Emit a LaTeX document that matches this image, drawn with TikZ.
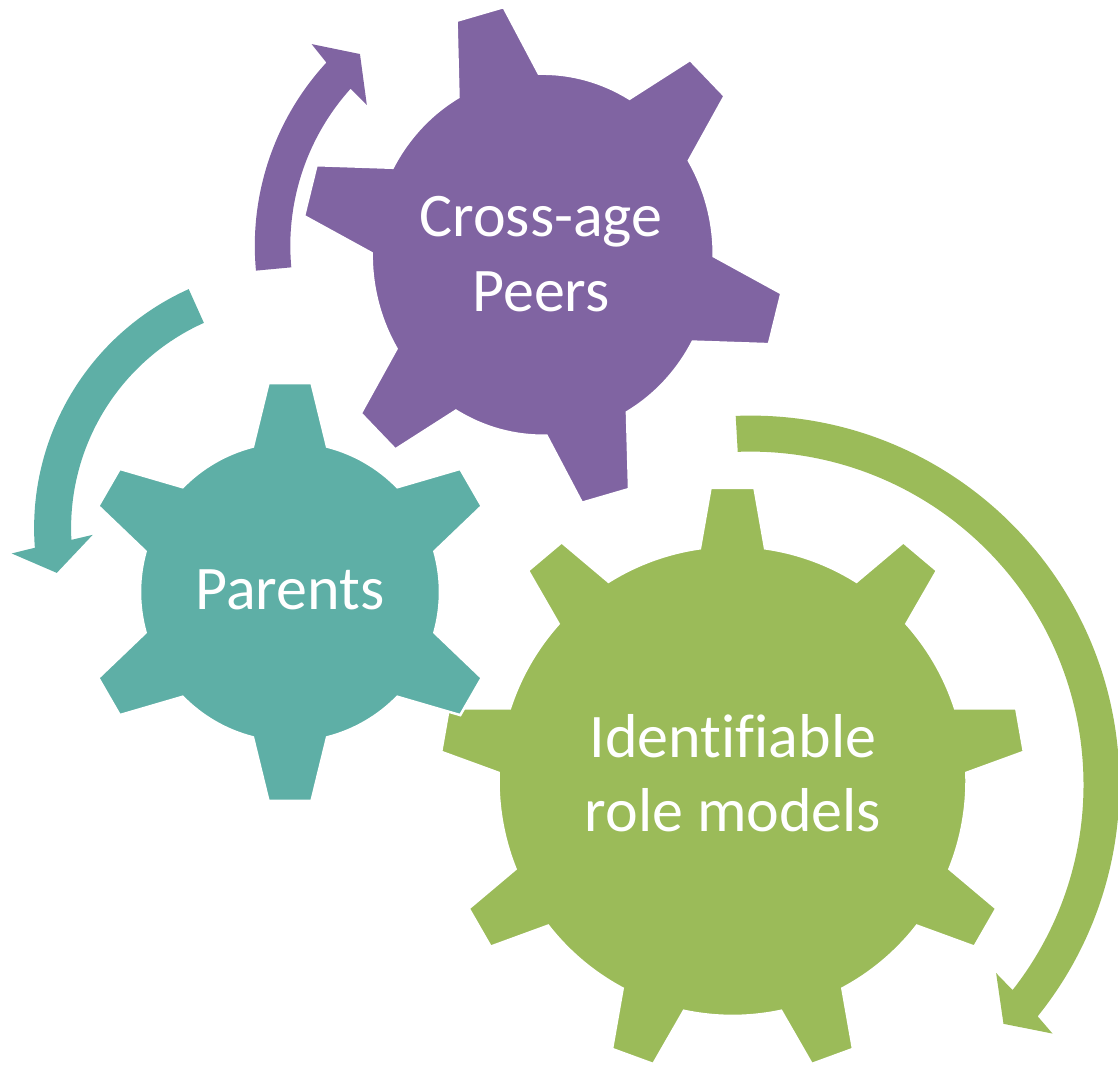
\documentclass[tikz,border=0pt]{standalone}
\usepackage{fontspec}
\setmainfont{Carlito}[Ligatures=NoCommon]
\definecolor{gpurple}{RGB}{128,100,162}
\definecolor{gteal}{RGB}{94,175,166}
\definecolor{ggreen}{RGB}{155,187,89}
\begin{document}
\begin{tikzpicture}[x=1pt,y=1pt,
  lbl/.style={text=white, font=\fontsize{62}{75}\selectfont, inner sep=0pt, anchor=base},
  gearbody/.style={draw=white, line width=2.5pt}]
\useasboundingbox (0,0) rectangle (1118,1065);

% green gear (Identifiable role models)
\begin{scope}[shift={(732.5,284)}, yscale=1.004]
\fill[ggreen,gearbody] (2:234)
  \foreach \a in {10,50,...,330} {
    -- ({\a-8}:234) -- ({\a-4.3}:292.8) -- ({\a+4.3}:292.8) -- ({\a+8}:234)
    arc[start angle=\a+8, end angle=\a+32, radius=234] } -- cycle;
\end{scope}

% purple gear (Cross-age Peers)
\begin{scope}[shift={(542.7,810.3)}, xscale=0.945]
\fill[gpurple,gearbody] ({105.4-14.1}:181)
  \foreach \a/\r in {105.4/251, 165.4/255.5, 225.4/249.5, 285.4/251.5, 345.4/255.5, 405.4/249.5} {
    -- ({\a-14.1}:181) -- ({\a-5.9}:\r) -- ({\a+5.9}:\r) -- ({\a+14.1}:181)
    arc[start angle=\a+14.1, end angle=\a+45.9, radius=181] } -- cycle;
\end{scope}

% teal gear (Parents)
\begin{scope}[shift={(290,473)}]
\fill[gteal,gearbody] (15.7:150)
  \foreach \a in {30,90,...,330} {
    -- ({\a-14.3}:150) -- ({\a-5.87}:210.1) -- ({\a+5.87}:210.1) -- ({\a+14.3}:150)
    arc[start angle=\a+14.3, end angle=\a+45.7, radius=150] } -- cycle;
\end{scope}

% purple circular arrow
\begin{scope}[shift={(524.8,819.3)}]
\fill[gpurple] (185.3:270) arc[start angle=185.3, end angle=137.3, radius=270]
  -- (136.6:293.4) -- (130.7:252.8) -- (138.3:211.6) -- (138.0:234.5)
  arc[start angle=138.0, end angle=185.3, radius=234.5] -- cycle;
\end{scope}

% teal circular arrow
\begin{scope}[shift={(296.1,536.9)}]
\fill[gteal] (114.2:262) arc[start angle=114.2, end angle=184.3, radius=262]
  -- (185.1:285.5) -- (190.6:243.5) -- (181.9:203.5) -- (183.0:225)
  arc[start angle=183.0, end angle=114.2, radius=225] -- cycle;
\end{scope}

% green circular arrow
\begin{scope}[shift={(750.5,280.4)}]
\fill[ggreen] (92.3:369) arc[start angle=92.3, end angle=-38.9, radius=369]
  -- (-39.5:391.4) -- (-43.4:348.2) -- (-37.5:309.6) -- (-38.1:333)
  arc[start angle=-38.1, end angle=92.2, radius=333] -- cycle;
\end{scope}

% labels
\node[lbl] (cross) at (541,828.5) {Cross-age};
\node[lbl] (peers) at (541,753.5) {Peers};
\node[lbl] (parents) at (290,455.7) {Parents};
\node[lbl] (ident) at (733,307.5) {Identifiable};
\node[lbl] (role) at (733,233) {role models};
\end{tikzpicture}
\end{document}
